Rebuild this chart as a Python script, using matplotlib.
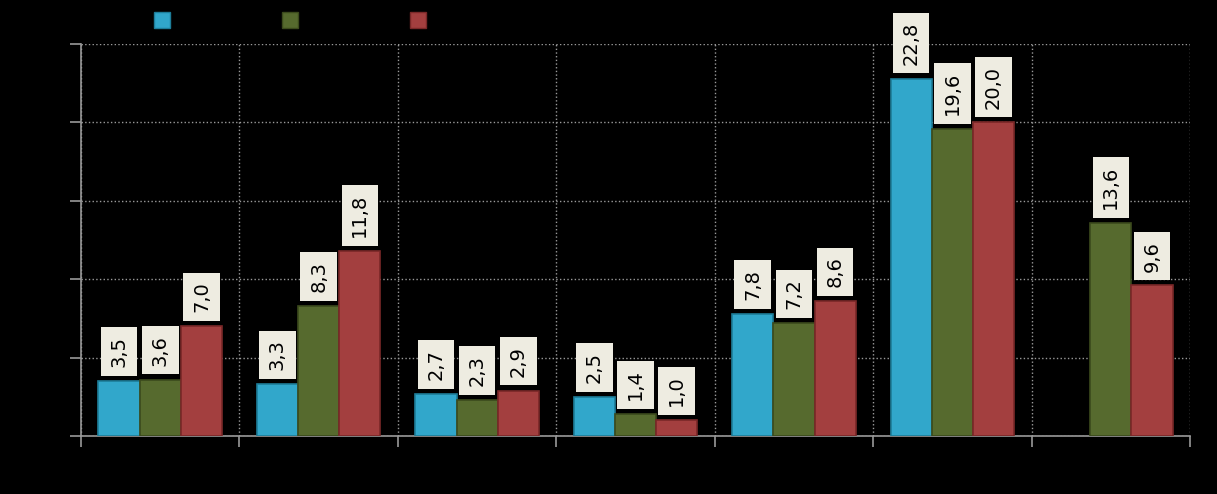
import numpy as np
import matplotlib
matplotlib.use('Agg')
import matplotlib.pyplot as plt
from matplotlib.lines import Line2D

# values (decimal comma in labels)
categories = ["1", "2", "3", "4", "5", "6", "7"]
series_names = ["Serie 1", "Serie 2", "Serie 3"]
serie1 = [3.5, 3.3, 2.7, 2.5, 7.8, 22.8, np.nan]
serie2 = [3.6, 8.3, 2.3, 1.4, 7.2, 19.6, 13.6]
serie3 = [7.0, 11.8, 2.9, 1.0, 8.6, 20.0, 9.6]

colors = ['#31a7cb', '#566a2e', '#a33f3f']
edges = ['#1d7d99', '#3b4a1c', '#7a2828']

fig = plt.figure(figsize=(12.17, 4.94), dpi=100, facecolor='black')
ax = fig.add_axes([0.0666, 0.1174, 0.9112, 0.7935], facecolor='black')

x = np.arange(len(categories))
w = 0.26
for i, vals in enumerate([serie1, serie2, serie3]):
    pos = x + (i - 1) * w
    bars = ax.bar(pos, vals, width=w, color=colors[i], edgecolor=edges[i],
                  linewidth=1.2, label=series_names[i], zorder=3)
    for xp, v in zip(pos, vals):
        if np.isnan(v):
            continue
        ax.annotate(("%.1f" % v).replace('.', ','), xy=(xp, v), xytext=(0, 10),
                    textcoords='offset points', rotation=90, ha='center', va='bottom',
                    fontsize=14, color='black', zorder=5,
                    bbox=dict(boxstyle='square,pad=0.45', fc='#eeece1', ec='none'))

ax.set_xlim(-0.5, len(categories) - 0.5)
ax.set_ylim(0, 25)
ax.set_yticks(np.arange(0, 26, 5))
ax.set_xticks(np.arange(-0.5, len(categories), 1.0))
ax.set_xticklabels([])
ax.set_yticklabels([])
ax.tick_params(colors='#999999', length=8, width=1.2, direction='out')
ax.grid(True, color='#9a9a9a', linestyle=':', linewidth=1, zorder=0)
for s in ['top', 'right']:
    ax.spines[s].set_visible(False)
for s in ['left', 'bottom']:
    ax.spines[s].set_color('#999999')
    ax.spines[s].set_linewidth(1.2)

handles = [Line2D([], [], marker='s', linestyle='none', markersize=12,
                  markerfacecolor=c, markeredgecolor=e) for c, e in zip(colors, edges)]
leg = fig.legend(handles, series_names, loc='upper left', bbox_to_anchor=(0.109, 1.0),
                 ncol=3, frameon=False, columnspacing=2.45, handletextpad=0.4,
                 fontsize=11, labelcolor='black')

fig.savefig('out.png', dpi=100, facecolor='black')
